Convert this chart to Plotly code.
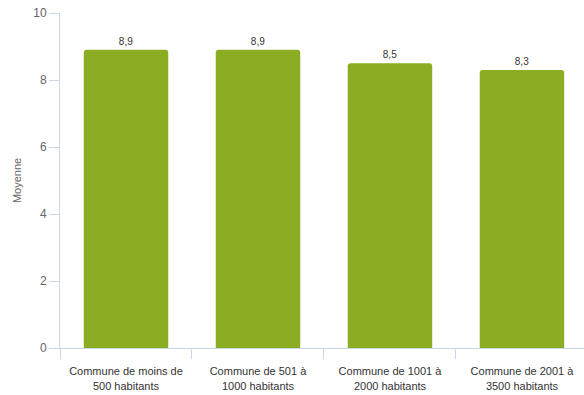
import plotly.graph_objects as go

categories = [
    "Commune de moins de<br>500 habitants",
    "Commune de 501 à<br>1000 habitants",
    "Commune de 1001 à<br>2000 habitants",
    "Commune de 2001 à<br>3500 habitants",
]
moyennes = [8.9, 8.9, 8.5, 8.3]
y_ticks = [0, 2, 4, 6, 8, 10]

axis_color = "#ccd6eb"
positions = list(range(len(categories)))
boundaries = [p - 0.5 for p in positions] + [positions[-1] + 0.5]

fig = go.Figure(
    go.Bar(
        x=positions,
        y=moyennes,
        marker=dict(color="#8bad24", line=dict(width=0)),
        text=[f"{v:.1f}".replace(".", ",") for v in moyennes],
        textposition="outside",
        textfont=dict(family="Liberation Sans, Arial, sans-serif", size=10, color="#333333"),
        cliponaxis=False,
        hoverinfo="skip",
    )
)

fig.update_layout(
    width=584,
    height=395,
    margin=dict(l=60, r=0, t=13, b=47),
    paper_bgcolor="white",
    plot_bgcolor="white",
    bargap=0.36,
    barcornerradius=3,
    showlegend=False,
    separators=",.",
    font=dict(family="Liberation Sans, Arial, sans-serif", color="#666666"),
)

fig.update_xaxes(
    range=[-0.5, 3.47],
    tickmode="array",
    tickvals=positions,
    ticktext=categories,
    ticks="",
    minor=dict(
        tickmode="array",
        tickvals=boundaries,
        ticks="outside",
        ticklen=10,
        tickcolor=axis_color,
        showgrid=False,
    ),
    showline=True,
    linecolor=axis_color,
    linewidth=1,
    showgrid=False,
    zeroline=False,
    ticklabelstandoff=13,
    tickfont=dict(size=11, color="#333333"),
)

fig.update_yaxes(
    range=[0, 10],
    tickmode="array",
    tickvals=y_ticks,
    ticktext=[str(t) for t in y_ticks],
    ticks="outside",
    ticklen=10,
    tickcolor=axis_color,
    showline=True,
    linecolor=axis_color,
    linewidth=1,
    showgrid=False,
    zeroline=False,
    tickfont=dict(size=12, color="#666666"),
    title=dict(text="Moyenne", font=dict(size=11, color="#666666"), standoff=9),
)

fig.write_html("out.html")
